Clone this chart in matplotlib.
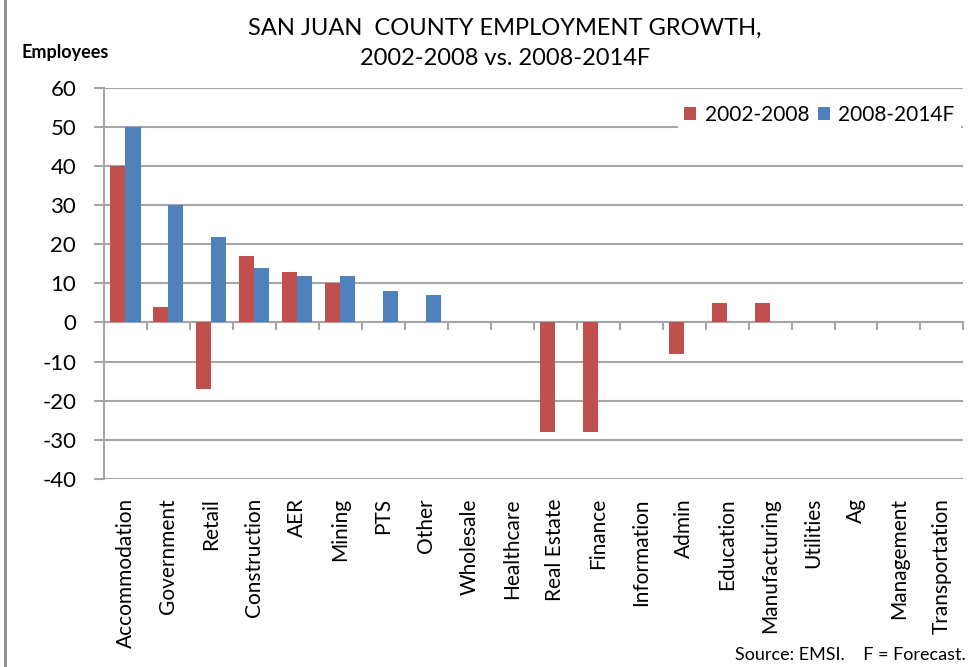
import matplotlib
matplotlib.use('agg')
import matplotlib.pyplot as plt
from matplotlib.lines import Line2D
import numpy as np

plt.rcParams['font.family'] = ['Lato', 'DejaVu Sans']
plt.rcParams['axes.unicode_minus'] = False

sectors = ['Accommodation', 'Government', 'Retail', 'Construction', 'AER', 'Mining', 'PTS',
           'Other', 'Wholesale', 'Healthcare', 'Real Estate', 'Finance', 'Information',
           'Admin', 'Education', 'Manufacturing', 'Utilities', 'Ag', 'Management',
           'Transportation']
growth_02_08 = [40, 4, -17, 17, 13, 10, 0, 0, 0, 0, -28, -28, 0, -8, 5, 5, 0, 0, 0, 0]
growth_08_14 = [50, 30, 22, 14, 12, 12, 8, 7, 0, 0, 0, 0, 0, 0, 0, 0, 0, 0, 0, 0]

red = '#C0504D'
blue = '#4F81BD'
grey = '#A6A6A6'

fig = plt.figure(figsize=(9.8, 6.67), dpi=100)
ax = fig.add_axes([0.1061, 0.2824, 0.877, 0.5854])

x = np.arange(len(sectors))
w = 0.35
ax.bar(x - w / 2, growth_02_08, w, color=red, label='2002-2008', zorder=3)
ax.bar(x + w / 2, growth_08_14, w, color=blue, label='2008-2014F', zorder=3)

ax.set_xlim(-0.5, len(sectors) - 0.5)
ax.set_ylim(-40, 60)
ax.set_yticks(range(-40, 61, 10))
ax.yaxis.grid(True, color=grey, linewidth=1.5, zorder=0)
ax.set_axisbelow(True)
for s in ['top', 'right', 'bottom']:
    ax.spines[s].set_visible(False)
ax.spines['left'].set_color(grey)
ax.spines['left'].set_linewidth(1.5)
ax.tick_params(axis='y', direction='out', length=7, width=1.5, color=grey,
               labelsize=16, pad=13, labelcolor='black')

ax.set_xticks(x)
ax.set_xticklabels(sectors, rotation=90, fontsize=15)
ax.tick_params(axis='x', length=0, pad=14)

# zero line with category separators
zero_ax = ax.secondary_xaxis(0.4)
zero_ax.set_xticks(np.arange(-0.5, len(sectors), 1.0))
zero_ax.set_xticklabels([])
zero_ax.spines['bottom'].set_color(grey)
zero_ax.spines['bottom'].set_linewidth(1.5)
zero_ax.tick_params(direction='out', length=6, width=1.5, color=grey)

leg = ax.legend(loc='center right', bbox_to_anchor=(0.997, 0.931), ncol=2, fontsize=15,
                frameon=True, fancybox=False, edgecolor='none', facecolor='white', framealpha=1,
                handlelength=0.6, handleheight=0.6, handletextpad=0.4, columnspacing=0.4,
                borderpad=0.3, borderaxespad=0)

fig.text(0.515, 0.958, 'SAN JUAN  COUNTY EMPLOYMENT GROWTH,', ha='center', va='center', fontsize=17)
fig.text(0.515, 0.912, '2002-2008 vs. 2008-2014F', ha='center', va='center', fontsize=17)
fig.text(0.022, 0.922, 'Employees', ha='left', va='center', fontsize=13, fontweight='bold')
fig.text(0.985, 0.018, 'Source: EMSI.    F = Forecast.', ha='right', va='center', fontsize=13)

fig.add_artist(Line2D([0.005, 0.005], [0, 1], color='#8C8C8C', linewidth=2, transform=fig.transFigure))

fig.savefig('out.png', dpi=100)
